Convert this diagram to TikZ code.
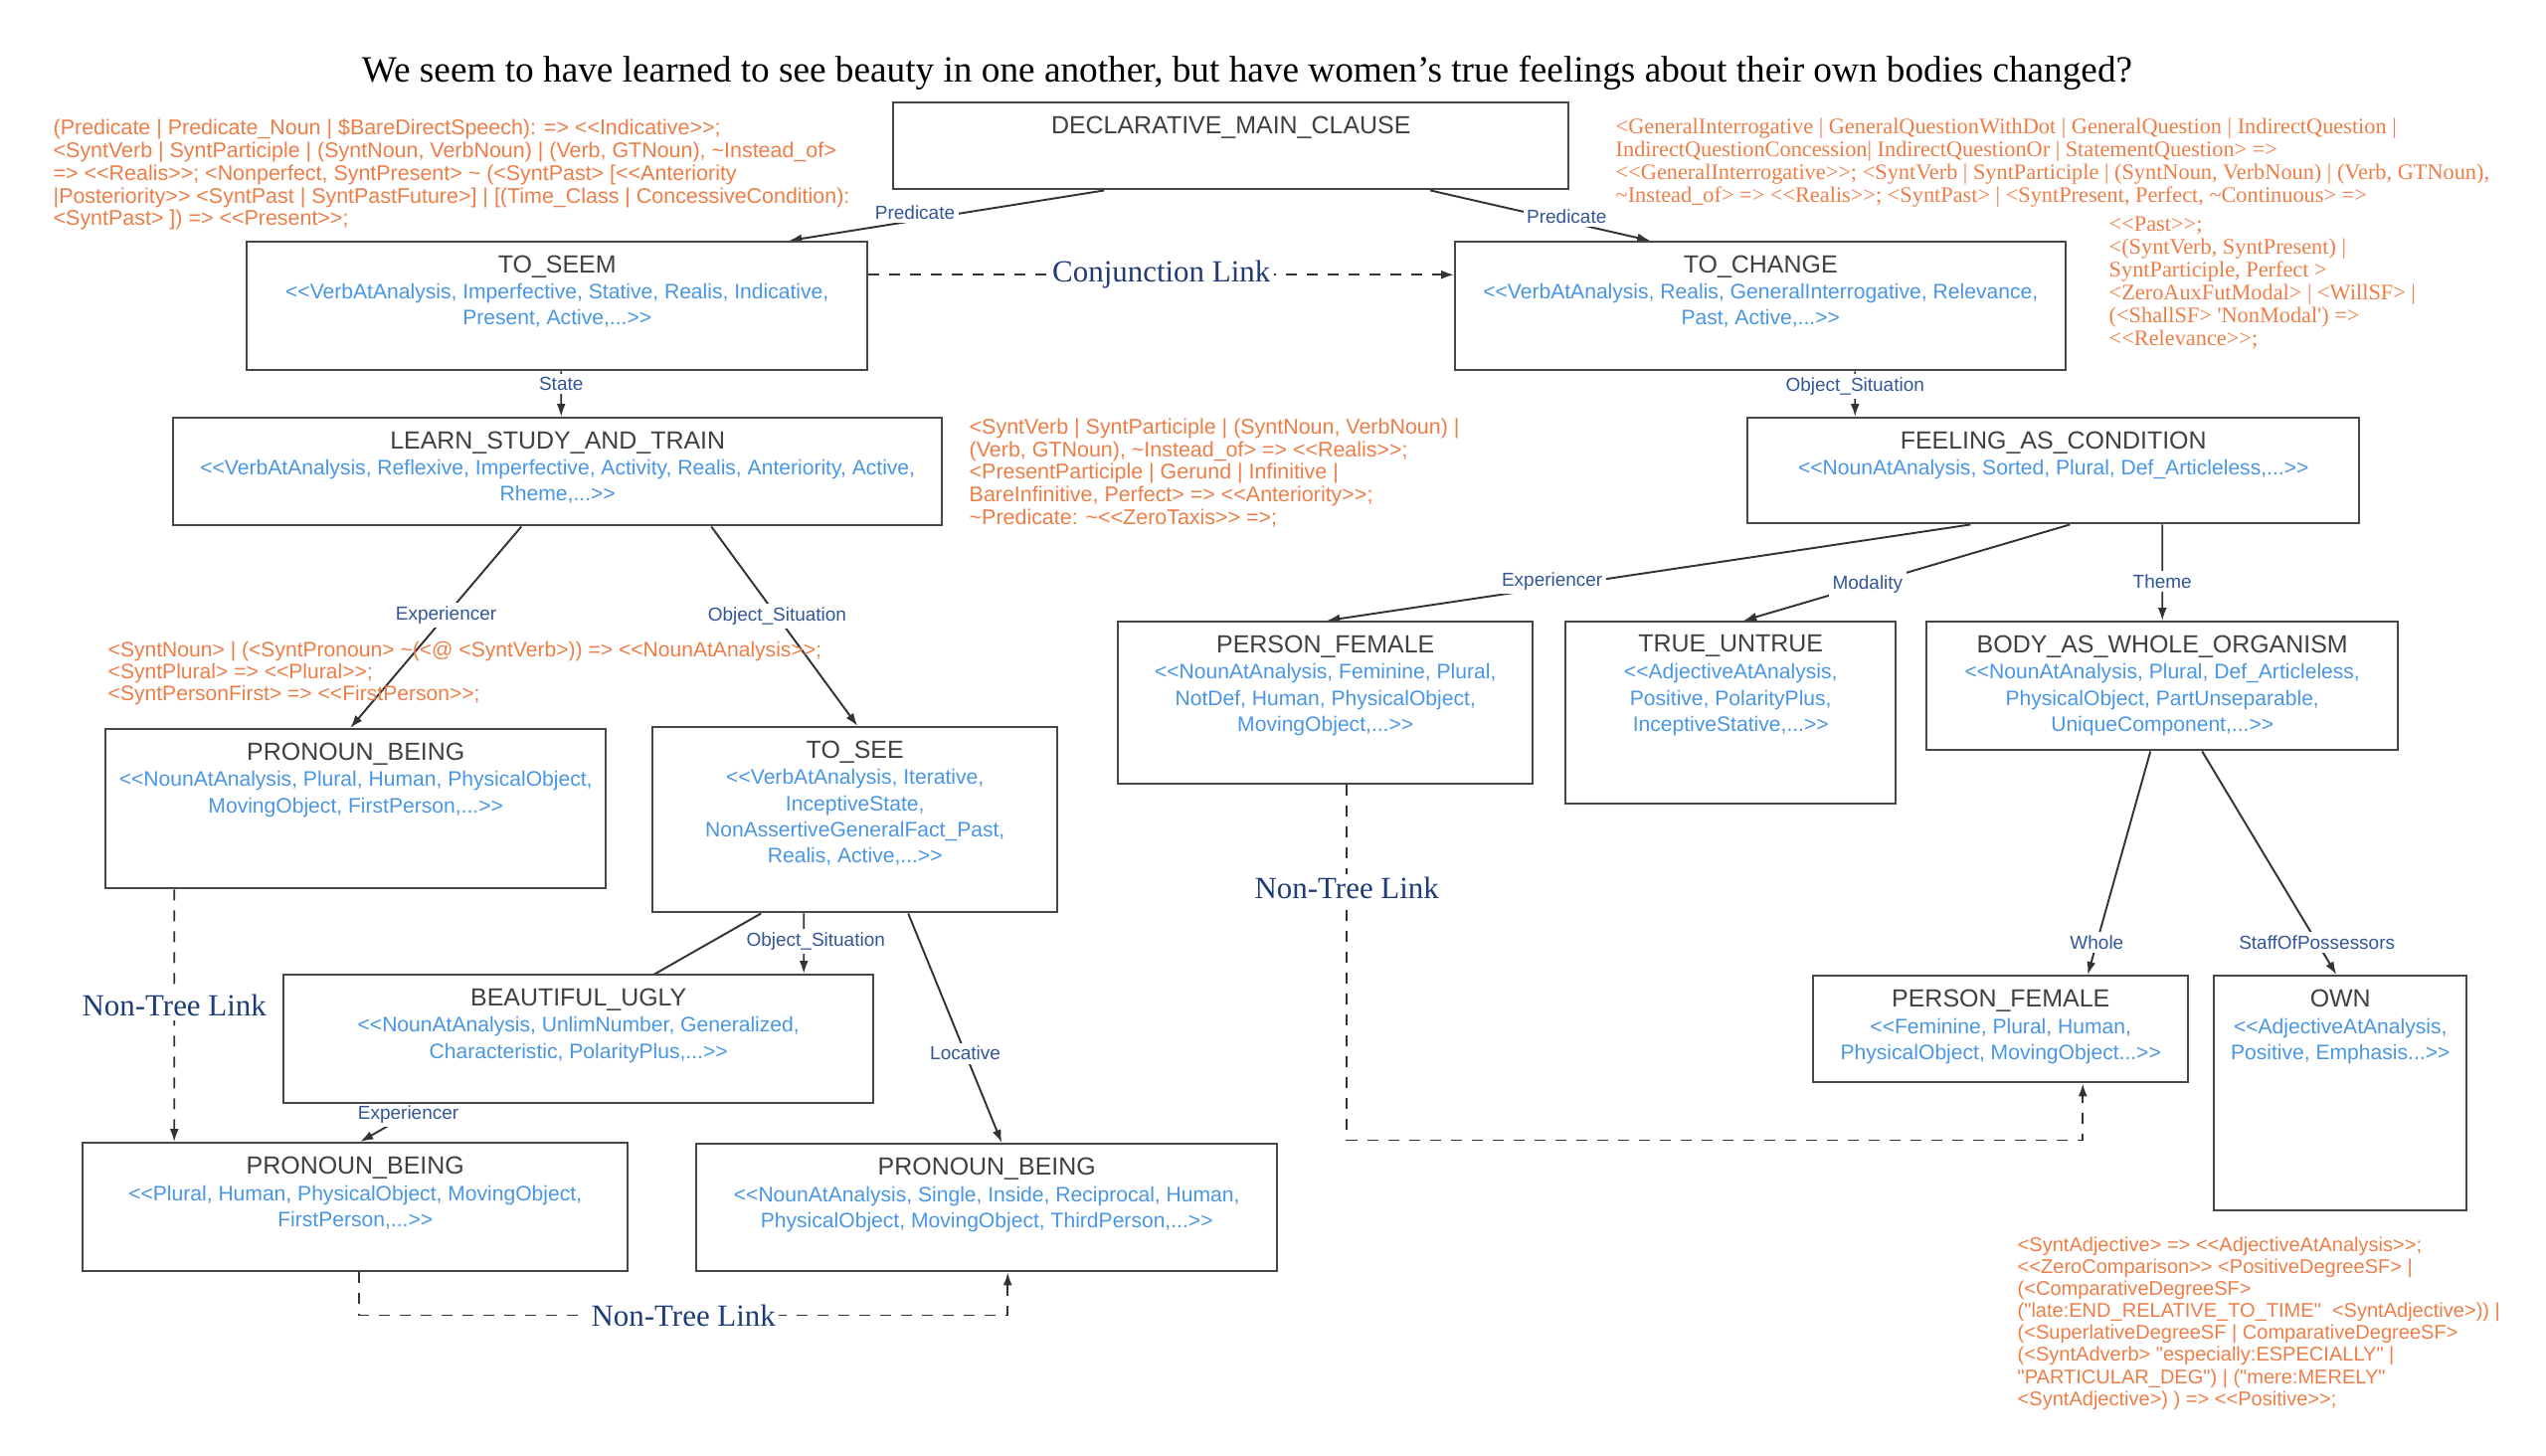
\documentclass[tikz,border=0pt]{standalone}
\usepackage{fontspec}
\usetikzlibrary{positioning,arrows.meta,backgrounds}

\newfontfamily\sansfam{Liberation Sans}
\newfontfamily\seriffam{Liberation Serif}

\definecolor{rulecol}{RGB}{237,125,70}
\definecolor{tagcol}{RGB}{74,150,226}
\definecolor{headcol}{RGB}{64,64,64}
\definecolor{relcol}{RGB}{50,85,150}
\definecolor{linkcol}{RGB}{30,60,120}
\definecolor{boxcol}{RGB}{70,70,70}

\begin{document}
\begin{tikzpicture}[
    >={Latex[length=1.3mm,width=0.9mm]},
    box/.style={draw=boxcol, line width=0.7pt, fill=white, anchor=north west, inner sep=0pt},
    head/.style={font=\sansfam\fontsize{7.1}{8.5}\selectfont, text=headcol, inner sep=0pt},
    tag/.style={font=\sansfam\fontsize{6.0}{7.4}\selectfont, text=tagcol, align=center, inner sep=0pt},
    rulenote/.style={font=\sansfam\fontsize{6.1}{6.5}\selectfont, text=rulecol, align=left, anchor=north west, inner sep=0pt},
    rel/.style={font=\sansfam\fontsize{5.4}{6.4}\selectfont, text=relcol, fill=white, inner sep=1pt},
    link/.style={font=\seriffam\fontsize{8.8}{10}\selectfont, text=linkcol, fill=white, inner sep=1pt},
    treelink/.style={draw=black!80, line width=0.55pt, ->},
    nontree/.style={draw=black!80, line width=0.55pt, dash pattern=on 1.1mm off 1mm, ->}
]
\useasboundingbox (0,0) rectangle (25.6,-14.63);

% Sentence
\node[font=\seriffam\fontsize{10.6}{12}\selectfont, anchor=base] (title) at (12.54,-0.82)
    {We seem to have learned to see beauty in one another, but have women’s true feelings about their own bodies changed?};

% Top level
\node[box, minimum width=6.79cm, minimum height=0.87cm] (DMC) at (8.97,-1.02) {};
\node[head, below=1.4mm of DMC.north] {DECLARATIVE\_MAIN\_CLAUSE};

% Predicates
\node[box, minimum width=6.24cm, minimum height=1.29cm] (SEEM) at (2.47,-2.42) {};
\node[head, below=1.4mm of SEEM.north] {TO\_SEEM};
\node[tag, below=4.3mm of SEEM.north] {<<VerbAtAnalysis, Imperfective, Stative, Realis, Indicative,\\ Present, Active,...>>};

\node[box, minimum width=6.14cm, minimum height=1.29cm] (CHANGE) at (14.62,-2.42) {};
\node[head, below=1.4mm of CHANGE.north] {TO\_CHANGE};
\node[tag, below=4.3mm of CHANGE.north] {<<VerbAtAnalysis, Realis, GeneralInterrogative, Relevance,\\ Past, Active,...>>};

% Second level
\node[box, minimum width=7.73cm, minimum height=1.08cm] (LEARN) at (1.73,-4.19) {};
\node[head, below=1.4mm of LEARN.north] {LEARN\_STUDY\_AND\_TRAIN};
\node[tag, below=4.3mm of LEARN.north] {<<VerbAtAnalysis, Reflexive, Imperfective, Activity, Realis, Anteriority, Active,\\ Rheme,...>>};

\node[box, minimum width=6.15cm, minimum height=1.06cm] (FEEL) at (17.56,-4.19) {};
\node[head, below=1.4mm of FEEL.north] {FEELING\_AS\_CONDITION};
\node[tag, below=4.3mm of FEEL.north] {<<NounAtAnalysis, Sorted, Plural, Def\_Articleless,...>>};

% Third level, left
\node[box, minimum width=5.03cm, minimum height=1.60cm] (PB1) at (1.05,-7.32) {};
\node[head, below=1.4mm of PB1.north] {PRONOUN\_BEING};
\node[tag, below=4.3mm of PB1.north] {<<NounAtAnalysis, Plural, Human, PhysicalObject,\\ MovingObject, FirstPerson,...>>};

\node[box, minimum width=4.07cm, minimum height=1.86cm] (SEE) at (6.55,-7.30) {};
\node[head, below=1.4mm of SEE.north] {TO\_SEE};
\node[tag, below=4.3mm of SEE.north] {<<VerbAtAnalysis, Iterative,\\ InceptiveState,\\ NonAssertiveGeneralFact\_Past,\\ Realis, Active,...>>};

\node[box, minimum width=5.93cm, minimum height=1.29cm] (BEAU) at (2.84,-9.79) {};
\node[head, below=1.4mm of BEAU.north] {BEAUTIFUL\_UGLY};
\node[tag, below=4.3mm of BEAU.north] {<<NounAtAnalysis, UnlimNumber, Generalized,\\ Characteristic, PolarityPlus,...>>};

\node[box, minimum width=5.48cm, minimum height=1.29cm] (PB2) at (0.82,-11.48) {};
\node[head, below=1.4mm of PB2.north] {PRONOUN\_BEING};
\node[tag, below=4.3mm of PB2.north] {<<Plural, Human, PhysicalObject, MovingObject,\\ FirstPerson,...>>};

\node[box, minimum width=5.84cm, minimum height=1.28cm] (PB3) at (6.99,-11.49) {};
\node[head, below=1.4mm of PB3.north] {PRONOUN\_BEING};
\node[tag, below=4.3mm of PB3.north] {<<NounAtAnalysis, Single, Inside, Reciprocal, Human,\\ PhysicalObject, MovingObject, ThirdPerson,...>>};

% Third level, right
\node[box, minimum width=4.17cm, minimum height=1.63cm] (PF1) at (11.23,-6.24) {};
\node[head, below=1.4mm of PF1.north] {PERSON\_FEMALE};
\node[tag, below=4.3mm of PF1.north] {<<NounAtAnalysis, Feminine, Plural,\\ NotDef, Human, PhysicalObject,\\ MovingObject,...>>};

\node[box, minimum width=3.32cm, minimum height=1.83cm] (TRUE) at (15.73,-6.24) {};
\node[head, below=1.4mm of TRUE.north] {TRUE\_UNTRUE};
\node[tag, below=4.3mm of TRUE.north] {<<AdjectiveAtAnalysis,\\ Positive, PolarityPlus,\\ InceptiveStative,...>>};

\node[box, minimum width=4.74cm, minimum height=1.29cm] (BODY) at (19.36,-6.24) {};
\node[head, below=1.4mm of BODY.north] {BODY\_AS\_WHOLE\_ORGANISM};
\node[tag, below=4.3mm of BODY.north] {<<NounAtAnalysis, Plural, Def\_Articleless,\\ PhysicalObject, PartUnseparable,\\ UniqueComponent,...>>};

\node[box, minimum width=3.77cm, minimum height=1.07cm] (PF2) at (18.22,-9.80) {};
\node[head, below=1.4mm of PF2.north] {PERSON\_FEMALE};
\node[tag, below=4.3mm of PF2.north] {<<Feminine, Plural, Human,\\ PhysicalObject, MovingObject...>>};

\node[box, minimum width=2.54cm, minimum height=2.36cm] (OWN) at (22.25,-9.80) {};
\node[head, below=1.4mm of OWN.north] {OWN};
\node[tag, below=4.3mm of OWN.north] {<<AdjectiveAtAnalysis,\\ Positive, Emphasis...>>};

% Rules
\node[rulenote] (R1) at (0.53,-1.19) {(Predicate | Predicate\_Noun | \$BareDirectSpeech): => <<Indicative>>;\\
<SyntVerb | SyntParticiple | (SyntNoun, VerbNoun) | (Verb, GTNoun), \textasciitilde Instead\_of>\\
=> <<Realis>>; <Nonperfect, SyntPresent> \textasciitilde\ (<SyntPast> [<<Anteriority\\
|Posteriority>> <SyntPast | SyntPastFuture>] | [(Time\_Class | ConcessiveCondition):\\
<SyntPast> ]) => <<Present>>;};

\node[rulenote, font=\seriffam\fontsize{6.35}{6.55}\selectfont] (R2) at (16.24,-1.18) {<GeneralInterrogative | GeneralQuestionWithDot | GeneralQuestion | IndirectQuestion |\\
IndirectQuestionConcession| IndirectQuestionOr | StatementQuestion> =>\\
<<GeneralInterrogative>>; <SyntVerb | SyntParticiple | (SyntNoun, VerbNoun) | (Verb, GTNoun),\\
\textasciitilde Instead\_of> => <<Realis>>; <SyntPast> | <SyntPresent, Perfect, \textasciitilde Continuous> =>};
\node[rulenote, font=\seriffam\fontsize{6.35}{6.55}\selectfont] (R3) at (21.20,-2.17) {<<Past>>;\\
<(SyntVerb, SyntPresent) |\\
SyntParticiple, Perfect >\\
<ZeroAuxFutModal> | <WillSF> |\\
(<ShallSF> 'NonModal') =>\\
<<Relevance>>;};

\node[rulenote, font=\sansfam\fontsize{6.1}{6.5}\selectfont] (R4) at (9.74,-4.20) {<SyntVerb | SyntParticiple | (SyntNoun, VerbNoun) |\\
(Verb, GTNoun), \textasciitilde Instead\_of> => <<Realis>>;\\
<PresentParticiple | Gerund | Infinitive |\\
BareInfinitive, Perfect> => <<Anteriority>>;\\
\textasciitilde Predicate: \textasciitilde<<ZeroTaxis>> =>;};

\node[rulenote, font=\sansfam\fontsize{6.0}{6.25}\selectfont] (R5) at (1.08,-6.45) {<SyntNoun> | (<SyntPronoun> \textasciitilde(<@ <SyntVerb>)) => <<NounAtAnalysis>>;\\
<SyntPlural> => <<Plural>>;\\
<SyntPersonFirst> => <<FirstPerson>>;};

\node[rulenote, font=\sansfam\fontsize{5.7}{6.3}\selectfont] (R6) at (20.28,-12.43) {<SyntAdjective> => <<AdjectiveAtAnalysis>>;\\
<<ZeroComparison>> <PositiveDegreeSF> |\\
(<ComparativeDegreeSF>\\
("late:END\_RELATIVE\_TO\_TIME"\ \ <SyntAdjective>)) |\\
(<SuperlativeDegreeSF | ComparativeDegreeSF>\\
(<SyntAdverb> "especially:ESPECIALLY" |\\
"PARTICULAR\_DEG") | ("mere:MERELY"\\
<SyntAdjective>) ) => <<Positive>>;};

% Connections
\begin{scope}[on background layer]
\draw[treelink] ([xshift=-12.75mm]DMC.south) -- node[rel, pos=0.6, yshift=0.8mm] {Predicate} ([xshift=23.3mm]SEEM.north);
\draw[treelink] ([xshift=20.05mm]DMC.south) -- node[rel, pos=0.62, yshift=0.5mm] {Predicate} ([xshift=-11.1mm]CHANGE.north);
\draw[treelink] ([xshift=0.4mm]SEEM.south) -- node[rel, pos=0.27] {State} ([xshift=0.35mm]LEARN.north);
\draw[treelink] ([xshift=9.5mm]CHANGE.south) -- node[rel, pos=0.33] {Object\_Situation} ([xshift=-19.95mm]FEEL.north);
\draw[treelink] ([xshift=-3.65mm]LEARN.south) -- node[rel, pos=0.44] {Experiencer} ([xshift=-0.55mm]PB1.north);
\draw[treelink] ([xshift=15.45mm]LEARN.south) -- node[rel, pos=0.45] {Object\_Situation} ([xshift=0.25mm]SEE.north);
\draw[treelink] ([xshift=-9.45mm]SEE.south) -- node[rel, pos=0.88] {Experiencer} ([xshift=0.5mm]PB2.north);
\draw[treelink] ([xshift=-5.15mm]SEE.south) -- node[rel, pos=0.46, xshift=1.2mm] {Object\_Situation} ([xshift=22.65mm]BEAU.north);
\draw[treelink] ([xshift=5.35mm]SEE.south) -- node[rel, pos=0.61] {Locative} ([xshift=1.5mm]PB3.north);
\draw[treelink] ([xshift=-8.35mm]FEEL.south) -- node[rel, pos=0.65, yshift=0.6mm] {Experiencer} ([xshift=0.15mm]PF1.north);
\draw[treelink] ([xshift=1.65mm]FEEL.south) -- node[rel, pos=0.62] {Modality} ([xshift=1.3mm]TRUE.north);
\draw[treelink] ([xshift=10.95mm]FEEL.south) -- node[rel, pos=0.59] {Theme} (BODY.north);
\draw[treelink] ([xshift=-1.2mm]BODY.south) -- node[rel, pos=0.855] {Whole} ([xshift=8.75mm]PF2.north);
\draw[treelink] ([xshift=4mm]BODY.south) -- node[rel, pos=0.855] {StaffOfPossessors} ([xshift=-0.4mm]OWN.north);

% Links outside the tree
\draw[nontree] ([yshift=3.15mm]SEEM.east) -- node[link] {Conjunction Link} ([yshift=3.15mm]CHANGE.west);
\draw[nontree] ([xshift=-18.25mm]PB1.south) -- node[link, pos=0.46] {Non-Tree Link} ([xshift=-18.2mm]PB2.north);
\draw[nontree] ([xshift=0.4mm]PB2.south) -- ++(0,-0.43) -| node[link, pos=0.25] {Non-Tree Link} ([xshift=2.1mm]PB3.south);
\draw[nontree] ([xshift=2.15mm]PF1.south) -- node[link, pos=0.29] {Non-Tree Link} ++(0,-3.57) -| ([xshift=8.25mm]PF2.south);
\end{scope}

\end{tikzpicture}
\end{document}
